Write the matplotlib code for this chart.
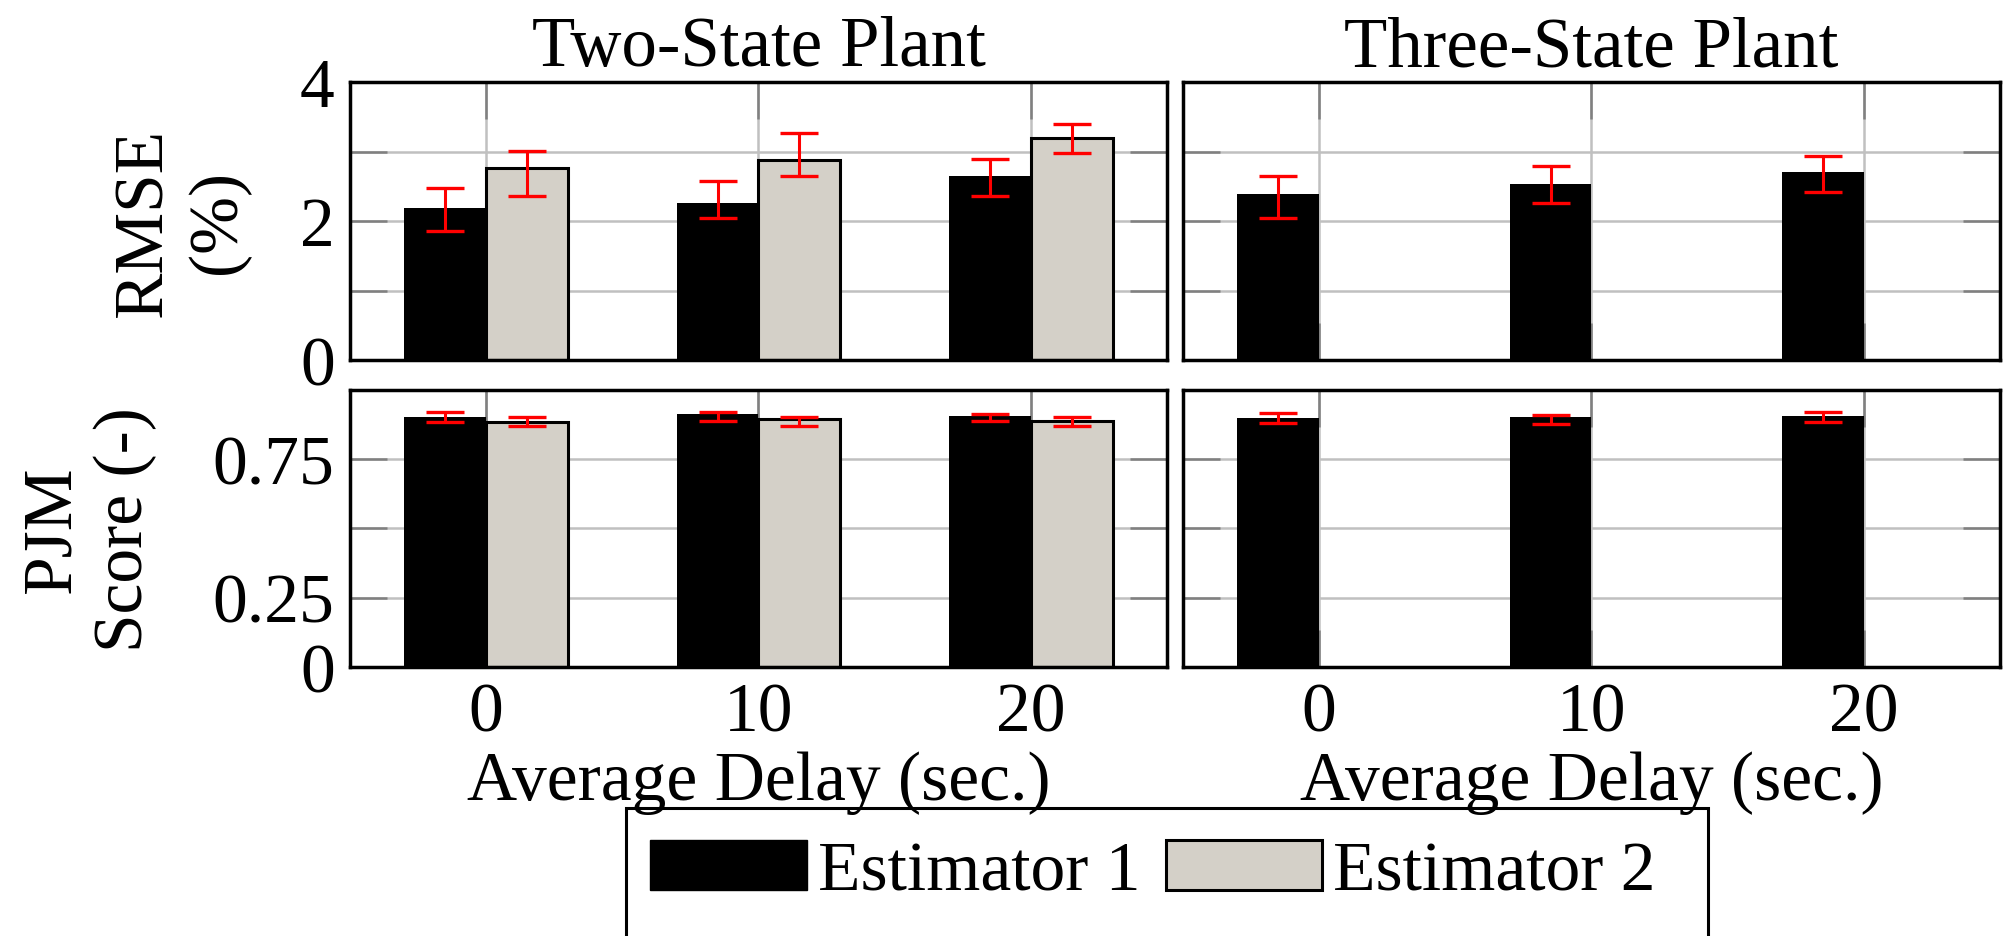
import matplotlib
matplotlib.use("Agg")
import matplotlib.pyplot as plt
import matplotlib.patches as mpatches
import numpy as np

plt.rcParams['font.family'] = ['Liberation Serif', 'DejaVu Serif']
plt.rcParams['font.size'] = 50

# data
delays = [0, 10, 20]
delay_labels = ['0', '10', '20']

two_rmse_e1 = [2.19, 2.26, 2.65]
two_rmse_e1_lo = [1.86, 2.04, 2.36]
two_rmse_e1_hi = [2.47, 2.58, 2.89]
two_rmse_e2 = [2.76, 2.88, 3.19]
two_rmse_e2_lo = [2.36, 2.65, 2.98]
two_rmse_e2_hi = [3.01, 3.27, 3.40]

three_rmse_e1 = [2.39, 2.53, 2.71]
three_rmse_e1_lo = [2.04, 2.26, 2.42]
three_rmse_e1_hi = [2.65, 2.79, 2.94]

two_pjm_e1 = [0.903, 0.913, 0.906]
two_pjm_e1_lo = [0.884, 0.888, 0.888]
two_pjm_e1_hi = [0.921, 0.921, 0.913]
two_pjm_e2 = [0.885, 0.895, 0.888]
two_pjm_e2_lo = [0.870, 0.870, 0.870]
two_pjm_e2_hi = [0.903, 0.903, 0.903]

three_pjm_e1 = [0.899, 0.903, 0.906]
three_pjm_e1_lo = [0.881, 0.877, 0.884]
three_pjm_e1_hi = [0.917, 0.910, 0.921]

c_e1 = 'black'
c_e2 = '#d4d0c8'
w = 3.0

fig = plt.figure(figsize=(20.09, 9.37), dpi=100)

axes_pos = {
    'tl': [0.1742, 0.6147, 0.4067, 0.2967],
    'tr': [0.5888, 0.6147, 0.4067, 0.2967],
    'bl': [0.1742, 0.2871, 0.4067, 0.2956],
    'br': [0.5888, 0.2871, 0.4067, 0.2956],
}


def bars(ax, vals, lo, hi, offset, color, edge_lw):
    x = np.array(delays) + offset
    v = np.array(vals)
    ax.bar(x, v, w, color=color, edgecolor='black', linewidth=edge_lw, zorder=2)
    yerr = [v - np.array(lo), np.array(hi) - v]
    ax.errorbar(x, v, yerr=yerr, fmt='none', ecolor='red', elinewidth=2.2,
                capsize=13.5, capthick=2.4, zorder=3)


def style(ax):
    ax.set_axisbelow(True)
    ax.set_xlim(-5, 25)
    ax.set_xticks(delays)
    ax.grid(True, which='both', color='#c0c0c0', linewidth=1.8)
    ax.tick_params(which='both', direction='in', top=True, right=True,
                   length=26.6, width=1.8, color='#808080', pad=11)
    for s in ax.spines.values():
        s.set_linewidth(2.5)
        s.set_color('black')


ax_tl = fig.add_axes(axes_pos['tl'])
ax_tr = fig.add_axes(axes_pos['tr'])
ax_bl = fig.add_axes(axes_pos['bl'])
ax_br = fig.add_axes(axes_pos['br'])

bars(ax_tl, two_rmse_e1, two_rmse_e1_lo, two_rmse_e1_hi, -w / 2, c_e1, 0)
bars(ax_tl, two_rmse_e2, two_rmse_e2_lo, two_rmse_e2_hi, w / 2, c_e2, 2.2)
bars(ax_tr, three_rmse_e1, three_rmse_e1_lo, three_rmse_e1_hi, -w / 2, c_e1, 0)
bars(ax_bl, two_pjm_e1, two_pjm_e1_lo, two_pjm_e1_hi, -w / 2, c_e1, 0)
bars(ax_bl, two_pjm_e2, two_pjm_e2_lo, two_pjm_e2_hi, w / 2, c_e2, 2.2)
bars(ax_br, three_pjm_e1, three_pjm_e1_lo, three_pjm_e1_hi, -w / 2, c_e1, 0)

for ax in (ax_tl, ax_tr):
    style(ax)
    ax.set_ylim(0, 4)
    ax.set_yticks([0, 2, 4])
    ax.set_yticks([1, 3], minor=True)
    ax.set_xticklabels([])

for ax in (ax_bl, ax_br):
    style(ax)
    ax.set_ylim(0, 1)
    ax.set_yticks([0, 0.25, 0.5, 0.75, 1])
    ax.set_yticklabels(['0', '0.25', '', '0.75', ''])
    ax.set_xticklabels(delay_labels)
    ax.set_xlabel('Average Delay (sec.)', labelpad=3)

ax_tr.set_yticklabels([])
ax_br.set_yticklabels([])

ax_tl.set_title('Two-State Plant', pad=12, fontsize=51)
ax_tr.set_title('Three-State Plant', pad=12, fontsize=51)
ax_tl.set_ylabel('RMSE\n(%)', labelpad=36)
ax_bl.set_ylabel('PJM\nScore (-)', labelpad=40)

handles = [mpatches.Patch(facecolor=c_e1, edgecolor='black', linewidth=1),
           mpatches.Patch(facecolor=c_e2, edgecolor='black', linewidth=2.2)]
fig.legend(handles, ['Estimator 1', 'Estimator 2'], loc='center',
           bbox_to_anchor=(0.574, 0.0683), ncol=2, frameon=False,
           handlelength=2.25, handleheight=0.72, handletextpad=0.16,
           columnspacing=0.37)
frame = mpatches.Rectangle((626 / 2009, -0.1), (1708 - 626) / 2009, 0.1 + 1 - 809 / 937,
                           transform=fig.transFigure, facecolor='none',
                           edgecolor='black', linewidth=2.2)
fig.patches.append(frame)

fig.savefig('out.png', dpi=100)
